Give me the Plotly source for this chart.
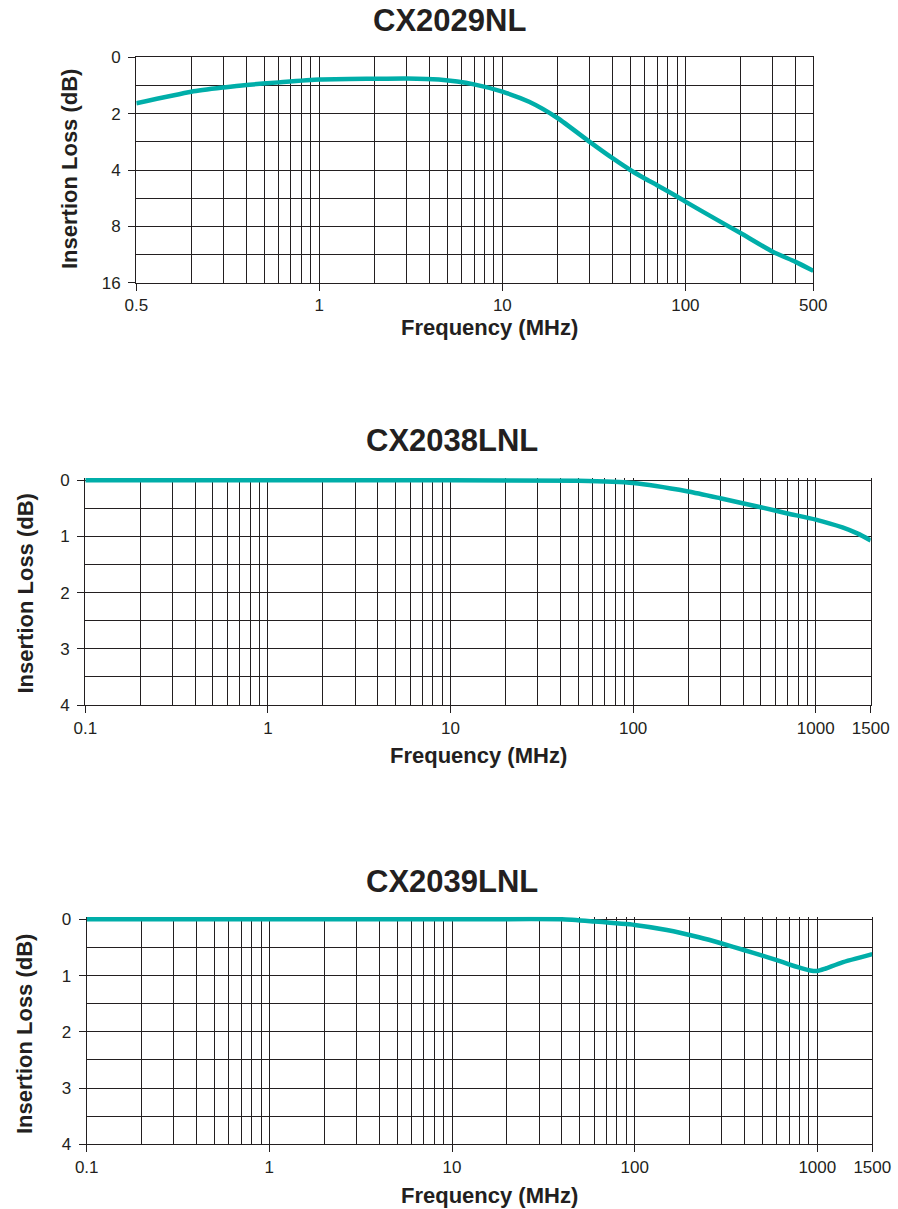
import math
import plotly.graph_objects as go

# ---------------- data ----------------
# Chart 1 (CX2029NL): axis drawn as 0.1..500 decades, first label printed "0.5"
c1_freq = [0.1, 0.2, 0.3, 0.4, 0.6, 1, 2, 3, 4.5, 7, 10, 14, 20, 30, 40, 50, 60, 70, 90, 100,
           150, 200, 300, 400, 500]
c1_loss = [1.63, 1.22, 1.07, 0.98, 0.89, 0.79, 0.76, 0.75, 0.79, 0.96, 1.22, 1.58, 2.11, 2.83,
           3.46, 4.0, 4.44, 4.82, 5.54, 5.90, 7.41, 8.69, 10.93, 12.38, 13.83]
c1_xtickvals = [0.1, 1, 10, 100, 500]
c1_xticktext = ["0.5", "1", "10", "100", "500"]
c1_ytickdb = [0, 2, 4, 8, 16]

# Chart 2 (CX2038LNL)
c2_freq = [0.1, 1, 10, 50, 100, 200, 300, 500, 700, 1000, 1400, 1700, 2000]
c2_loss = [0.0, 0.0, 0.0, 0.01, 0.05, 0.2, 0.32, 0.48, 0.59, 0.70, 0.84, 0.95, 1.07]

# Chart 3 (CX2039LNL)
c3_freq = [0.1, 1, 10, 40, 60, 100, 150, 225, 300, 400, 500, 600, 700, 800, 900, 1000, 1100,
           1360, 2000]
c3_loss = [0.0, 0.0, 0.0, 0.0, 0.04, 0.10, 0.19, 0.32, 0.43, 0.55, 0.645, 0.725, 0.80, 0.86,
           0.905, 0.92, 0.88, 0.77, 0.62]

c23_xtickvals = [0.1, 1, 10, 100, 1000, 2000]
c23_xticktext = ["0.1", "1", "10", "100", "1000", "1500"]
c23_ytickvals = [0, 1, 2, 3, 4]

titles = ["CX2029NL", "CX2038LNL", "CX2039LNL"]
xtitle = "Frequency (MHz)"
ytitle = "Insertion Loss (dB)"

# ---------------- style ----------------
W, H = 898, 1209
INK = "#231f20"
TEAL = "#00aea9"
FONT = "Liberation Sans, Arial, Helvetica, sans-serif"
GRIDW = 1.3


def X(p):
    return p / W


def Y(p):
    return 1 - p / H


def c1_pos(v):
    # chart 1 y scale: linear 0..2 in first band, then one band per doubling
    return v / 2 if v <= 2 else math.log2(v)


def minor_log(lo, hi):
    vals = []
    d = 0.1
    while d < hi:
        for k in range(2, 10):
            v = k * d
            if lo < v < hi:
                vals.append(round(v, 6))
        d *= 10
    return vals


fig = go.Figure()

fig.add_trace(go.Scatter(x=c1_freq, y=[c1_pos(v) for v in c1_loss], mode="lines",
                         line=dict(color=TEAL, width=4.5, shape="spline", smoothing=0.6),
                         xaxis="x", yaxis="y", showlegend=False))
fig.add_trace(go.Scatter(x=c2_freq, y=c2_loss, mode="lines",
                         line=dict(color=TEAL, width=4.5, shape="spline", smoothing=0.6),
                         xaxis="x2", yaxis="y2", showlegend=False))
fig.add_trace(go.Scatter(x=c3_freq, y=c3_loss, mode="lines",
                         line=dict(color=TEAL, width=4.5, shape="spline", smoothing=0.5),
                         xaxis="x3", yaxis="y3", showlegend=False))

common_x = dict(type="log", showline=True, linecolor=INK, linewidth=GRIDW,
                ticks="outside", ticklen=7, tickwidth=GRIDW, tickcolor=INK,
                showgrid=True, gridcolor=INK, gridwidth=GRIDW, zeroline=False,
                tickfont=dict(family=FONT, size=17, color=INK), layer="below traces",
                ticklabelstandoff=0, automargin=False)
common_y = dict(showline=True, linecolor=INK, linewidth=GRIDW, mirror=True,
                ticks="outside", ticklen=7, tickwidth=GRIDW, tickcolor=INK,
                showgrid=True, gridcolor=INK, gridwidth=GRIDW, zeroline=False,
                tickfont=dict(family=FONT, size=17, color=INK), layer="below traces",
                ticklabelstandoff=4, automargin=False)

# chart 1 geometry (pixels): x 136.3..813.3, y 57.3..282.7
fig.update_layout(
    xaxis=dict(common_x, domain=[X(136.3), X(813.3)], anchor="y",
               range=[math.log10(0.1), math.log10(500)], mirror=True,
               tickmode="array", tickvals=c1_xtickvals, ticktext=c1_xticktext,
               minor=dict(tickmode="array", tickvals=minor_log(0.1, 500), showgrid=True,
                          gridcolor=INK, gridwidth=GRIDW, ticks="")),
    yaxis=dict(common_y, domain=[Y(282.7), Y(57.3)], anchor="x", range=[4, 0],
               tickmode="array", tickvals=[c1_pos(v) for v in c1_ytickdb],
               ticktext=[str(v) for v in c1_ytickdb],
               minor=dict(tickmode="array", tickvals=[0.5, 1.5, 2.5, 3.5], showgrid=True,
                          gridcolor=INK, gridwidth=GRIDW, ticks="")),
)

pad = 0.045  # room so the flat 0 dB trace is not clipped at the top edge
for i, (x0, x1, ytop, ybot) in enumerate([(85.3, 870.7, 480.3, 705.0),
                                           (86.7, 872.3, 919.3, 1144.3)], start=2):
    unit = (ybot - ytop) / 4
    fig.layout["xaxis%d" % i] = dict(common_x, domain=[X(x0), X(x1)], anchor="y%d" % i,
                                     range=[math.log10(0.1), math.log10(2000)], mirror=False,
                                     tickmode="array", tickvals=c23_xtickvals, ticktext=c23_xticktext,
                                     minor=dict(tickmode="array", tickvals=minor_log(0.1, 2000),
                                                showgrid=True, gridcolor=INK, gridwidth=GRIDW, ticks=""))
    fig.layout["yaxis%d" % i] = dict(common_y, domain=[Y(ybot), Y(ytop - pad * unit)], anchor="x%d" % i,
                                     range=[4, -pad], tickmode="array", tickvals=c23_ytickvals,
                                     ticktext=[str(v) for v in c23_ytickvals],
                                     minor=dict(tickmode="array", tickvals=[0.5, 1.5, 2.5, 3.5],
                                                showgrid=True, gridcolor=INK, gridwidth=GRIDW, ticks=""))

ann = []
title_pos = [(449, 20), (451.7, 440), (451.7, 881)]
xt_pos = [(489.5, 327), (478, 755), (490, 1195)]
yt_pos = [(70, 169), (24.5, 594), (24.5, 1034.5)]
for t, (tx, ty), (ax_, ay_), (bx, by) in zip(titles, title_pos, xt_pos, yt_pos):
    ann.append(dict(text="<b>%s</b>" % t, x=X(tx), y=Y(ty), xref="paper", yref="paper",
                    xanchor="center", yanchor="middle", showarrow=False,
                    font=dict(family=FONT, size=31, color=INK)))
    ann.append(dict(text="<b>%s</b>" % xtitle, x=X(ax_), y=Y(ay_), xref="paper", yref="paper",
                    xanchor="center", yanchor="middle", showarrow=False,
                    font=dict(family=FONT, size=22, color=INK)))
    ann.append(dict(text="<b>%s</b>" % ytitle, x=X(bx), y=Y(by), xref="paper", yref="paper",
                    xanchor="center", yanchor="middle", showarrow=False, textangle=-90,
                    font=dict(family=FONT, size=22, color=INK)))

fig.update_layout(width=W, height=H, margin=dict(l=0, r=0, t=0, b=0),
                  paper_bgcolor="white", plot_bgcolor="white", annotations=ann,
                  showlegend=False)

fig.write_html("out.html", config={"displayModeBar": False},
               post_script="document.body.style.margin='0px';document.body.style.overflow='hidden';")
